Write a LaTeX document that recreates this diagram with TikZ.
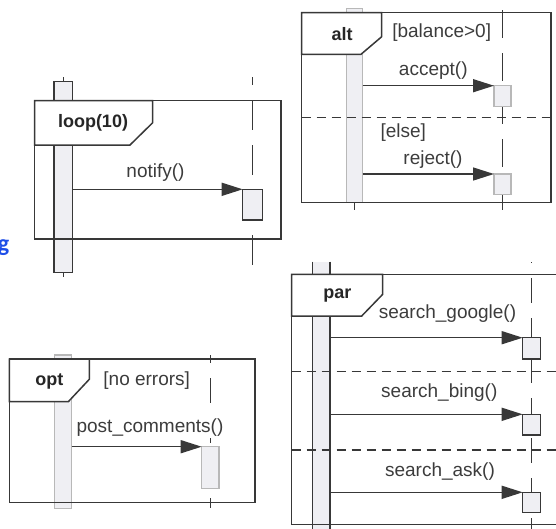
\documentclass[tikz,border=0pt]{standalone}
\usepackage{fontspec}
\setmainfont{Liberation Sans}
\newfontfamily\linkfont{Carlito}
\usetikzlibrary{arrows.meta}
\definecolor{ink}{HTML}{383838}
\definecolor{txt}{HTML}{3C3C3C}
\definecolor{barfill}{HTML}{EFEFF3}
\definecolor{pale}{HTML}{B8B8B8}
\definecolor{linkblue}{HTML}{1F4FE8}
\tikzset{
  frame/.style={draw=ink, line width=1.5pt},
  tagbox/.style={frame, fill=white},
  divider/.style={draw=ink, line width=1.5pt, dash pattern=on 9pt off 6pt},
  lifeline/.style={draw=ink, line width=1.5pt},
  actbar/.style={draw=ink, fill=barfill, line width=1.2pt, inner sep=0pt, outer sep=0pt, anchor=north west},
  palebar/.style={actbar, draw=pale},
  openbar/.style={actbar, draw=none},
  barside/.style={draw=ink, line width=1.2pt},
  msg/.style={draw=ink, line width=1.5pt, -{Triangle[length=21pt,width=13pt]}},
  msgtext/.style={text=txt, inner sep=1pt, font=\fontsize{19}{22}\selectfont},
  tagtext/.style={text=black!85, inner sep=1pt, font=\bfseries\fontsize{18}{21}\selectfont}
}
\begin{document}
\begin{tikzpicture}[x=1pt,y=-1pt]
\useasboundingbox (0,0) rectangle (556,528);

% ---------- loop(10) ----------
\draw[lifeline] (63.3,77) -- (63.3,277);
\draw[lifeline, dash pattern=on 30pt off 15pt, dash phase=22pt] (252.7,77) -- (252.7,277);
\node[actbar, minimum width=18.7pt, minimum height=191pt] (loopbar) at (54,81.7) {};
\node[actbar, minimum width=19.6pt, minimum height=30.7pt] (loopbox) at (242.7,189.3) {};
\draw[tagbox] (34.7,100.7) -- (152.7,100.7) -- (152.7,122.7) -- (130,145) -- (34.7,145) -- cycle;
\draw[frame] (34.7,100.7) rectangle (281,239);
\node[tagtext] (looptag) at (93,123) {loop(10)};
\draw[msg] (loopbar.east |- loopbox.north west) -- (loopbox.north west);
\node[msgtext] (notify) at (155.5,173) {notify()};

% ---------- alt ----------
\draw[lifeline] (354.7,196) -- (354.7,210);
\draw[lifeline, dash pattern=on 28pt off 15pt, dash phase=33pt] (502.3,0) -- (502.3,210);
\node[palebar, minimum width=16pt, minimum height=194.4pt] (altbar) at (346.7,8.3) {};
\node[palebar, minimum width=17pt, minimum height=21pt] (altboxa) at (494,85.7) {};
\node[palebar, minimum width=17pt, minimum height=20.3pt] (altboxb) at (494,174) {};
\draw[tagbox] (301.7,12.7) -- (381.7,12.7) -- (381.7,36.7) -- (361,54.3) -- (301.7,54.3) -- cycle;
\draw[frame] (301.7,12.7) rectangle (551,202.7);
\draw[divider] (301.7,117.3) -- (551,117.3);
\node[tagtext] (alttag) at (342,34) {alt};
\node[msgtext] (altguarda) at (441.7,33) {[balance>0]};
\draw[msg] (altbar.east |- altboxa.north west) -- (altboxa.north west);
\node[msgtext] (accept) at (433.3,71) {accept()};
\node[msgtext] (altguardb) at (403.3,132.7) {[else]};
\draw[msg] (altbar.east |- altboxb.north west) -- (altboxb.north west);
\node[msgtext] (reject) at (433,160) {reject()};

% ---------- par ----------
\draw[lifeline, dash pattern=on 25pt off 15pt, dash phase=24pt] (531.7,262) -- (531.7,530);
\node[openbar, minimum width=17.7pt, minimum height=272pt] (parbar) at (312.3,261.7) {};
\draw[barside] (parbar.north west) -- (parbar.south west);
\draw[barside] (parbar.north east) -- (parbar.south east);
\node[actbar, minimum width=17.6pt, minimum height=21.3pt] (parboxa) at (522.7,337.7) {};
\node[actbar, minimum width=17.6pt, minimum height=20.7pt] (parboxb) at (522.7,414.3) {};
\node[actbar, minimum width=17.6pt, minimum height=20.4pt] (parboxc) at (522.7,492.3) {};
\draw[tagbox] (291.7,274.3) -- (382.7,274.3) -- (382.7,294.3) -- (361.7,316) -- (291.7,316) -- cycle;
\draw[frame] (291.7,274.3) rectangle (562,524.3);
\draw[divider] (291.7,371.7) -- (562,371.7);
\draw[divider] (291.7,450) -- (562,450);
\node[tagtext] (partag) at (337.3,295.7) {par};
\draw[msg] (parbar.east |- parboxa.north west) -- (parboxa.north west);
\node[msgtext] (google) at (447.5,314) {search\_google()};
\draw[msg] (parbar.east |- parboxb.north west) -- (parboxb.north west);
\node[msgtext] (bing) at (439.3,393) {search\_bing()};
\draw[msg] (parbar.east |- parboxc.north west) -- (parboxc.north west);
\node[msgtext] (ask) at (440,471.5) {search\_ask()};

% ---------- opt ----------
\draw[lifeline, dash pattern=on 25pt off 15pt, dash phase=17pt] (210.5,355) -- (210.5,508);
\node[palebar, minimum width=17.4pt, minimum height=153.3pt] (optbar) at (54.3,355) {};
\node[palebar, minimum width=17.3pt, minimum height=41.6pt] (optbox) at (201.7,446.7) {};
\draw[tagbox] (9.3,359) -- (89.3,359) -- (89.3,379.3) -- (68.3,401.7) -- (9.3,401.7) -- cycle;
\draw[frame] (9.3,359) rectangle (255,502.3);
\node[tagtext] (opttag) at (49.3,381.7) {opt};
\node[msgtext] (optguard) at (146.7,381) {[no errors]};
\draw[msg] (optbar.east |- optbox.north west) -- (optbox.north west);
\node[msgtext, fill=white] (post) at (150,428) {post\_comments()};

% ---------- link fragment at the left edge ----------
\node[anchor=base east, inner sep=0pt, text=linkblue, font=\linkfont\bfseries\fontsize{24}{24}\selectfont] (lnk) at (9.5,251.5) {g};
\end{tikzpicture}
\end{document}
